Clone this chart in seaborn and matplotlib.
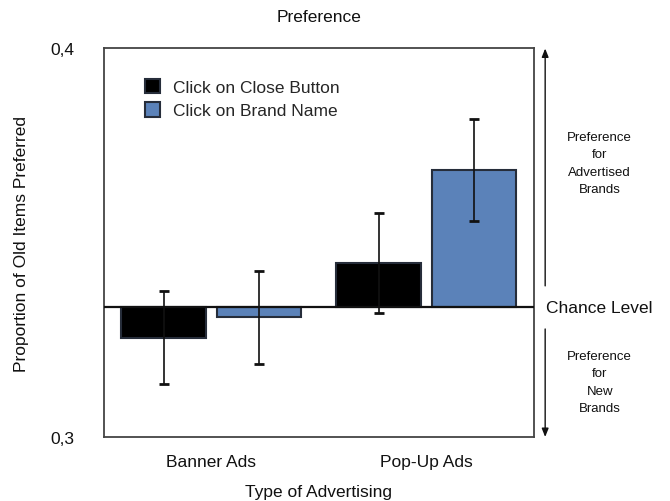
import matplotlib
matplotlib.use("Agg")
import matplotlib.pyplot as plt
import matplotlib.transforms as mtransforms
import numpy as np
import pandas as pd
import seaborn as sns

# Proportion of old items preferred, by advertising type and click condition
ad_types = ["Banner Ads", "Pop-Up Ads"]
conditions = ["Click on Close Button", "Click on Brand Name"]
close_button = [0.3256, 0.3447]
brand_name = [0.3308, 0.3688]
close_err = [0.0120, 0.0129]
brand_err = [0.0120, 0.0131]
chance = 1 / 3
y_ticks = [0.3, 0.4]
y_ticklabels = ["0,3", "0,4"]

colors = {"Click on Close Button": "#000000", "Click on Brand Name": "#5b82b9"}

df = pd.DataFrame({
    "Type": ad_types * 2,
    "Condition": [conditions[0]] * 2 + [conditions[1]] * 2,
    "Value": close_button + brand_name,
    "Err": close_err + brand_err,
})
# bars grow from the chance level
df["Delta"] = df["Value"] - chance

sns.set_style("white")
plt.rcParams["font.family"] = ["Liberation Sans", "DejaVu Sans"]

fig = plt.figure(figsize=(6.7, 5.02), dpi=100)
ax = fig.add_axes([0.1552, 0.1275, 0.6418, 0.7739])

sns.barplot(
    data=df, x="Type", y="Delta", hue="Condition",
    order=ad_types, hue_order=conditions, palette=colors, saturation=1,
    width=0.884, gap=0.106, errorbar=None, bottom=chance, legend=False,
    edgecolor="#262d3a", linewidth=1.5, ax=ax, zorder=2,
)

# error bars at the centre of each bar
for cond, container in zip(conditions, ax.containers):
    sub = df[df["Condition"] == cond].set_index("Type").loc[ad_types]
    xs = [p.get_x() + p.get_width() / 2 for p in container.patches]
    ax.errorbar(xs, sub["Value"], yerr=sub["Err"], fmt="none",
                ecolor="#111111", elinewidth=1.2, capsize=3.5,
                capthick=2, zorder=4)

ax.axhline(chance, color="#111111", lw=1.6, zorder=5)

ax.set_xlim(-0.5, 1.5)
ax.set_ylim(0.3, 0.4)
ax.set_yticks(y_ticks)
ax.set_yticklabels(y_ticklabels)
ax.tick_params(axis="both", length=0, labelsize=12.5, colors="#111111")
ax.tick_params(axis="y", pad=21)
ax.tick_params(axis="x", pad=12)

for s in ax.spines.values():
    s.set_visible(True)
    s.set_color("#444444")
    s.set_linewidth(1.3)

ax.set_xlabel("Type of Advertising", fontsize=12.5, labelpad=11, color="#111111")
ax.set_ylabel("Proportion of Old Items Preferred", fontsize=12.5, labelpad=16,
              color="#111111")
ax.set_title("Preference", fontsize=12.5, pad=20, color="#111111")

handles = [c.patches[0] for c in ax.containers[:2]]
leg = ax.legend(handles, conditions, loc="upper left",
                bbox_to_anchor=(0.095, 0.922), frameon=False,
                fontsize=12.5, borderpad=0, borderaxespad=0, handlelength=0.9,
                handleheight=0.9, handletextpad=0.75, labelspacing=0.42)

# side annotations: preference direction relative to chance
trans = mtransforms.blended_transform_factory(ax.transAxes, ax.transData)
arrow_kw = dict(arrowstyle="-|>,head_length=0.5,head_width=0.2", color="#111111",
                lw=1.0, shrinkA=0, shrinkB=0)
ax.annotate("", xy=(1.026, 0.4), xytext=(1.026, 0.3389), xycoords=trans,
            textcoords=trans, arrowprops=arrow_kw, annotation_clip=False)
ax.annotate("", xy=(1.026, 0.3), xytext=(1.026, 0.3278), xycoords=trans,
            textcoords=trans, arrowprops=arrow_kw, annotation_clip=False)
ax.text(1.028, chance, "Chance Level", transform=trans, ha="left", va="center",
        fontsize=12.5, color="#111111", clip_on=False)
ax.text(1.153, 0.3705, "Preference\nfor\nAdvertised\nBrands", transform=trans,
        ha="center", va="center", fontsize=9.5, linespacing=1.6,
        color="#111111", clip_on=False)
ax.text(1.153, 0.3142, "Preference\nfor\nNew\nBrands", transform=trans,
        ha="center", va="center", fontsize=9.5, linespacing=1.6,
        color="#111111", clip_on=False)

fig.savefig("out.png", dpi=100)
